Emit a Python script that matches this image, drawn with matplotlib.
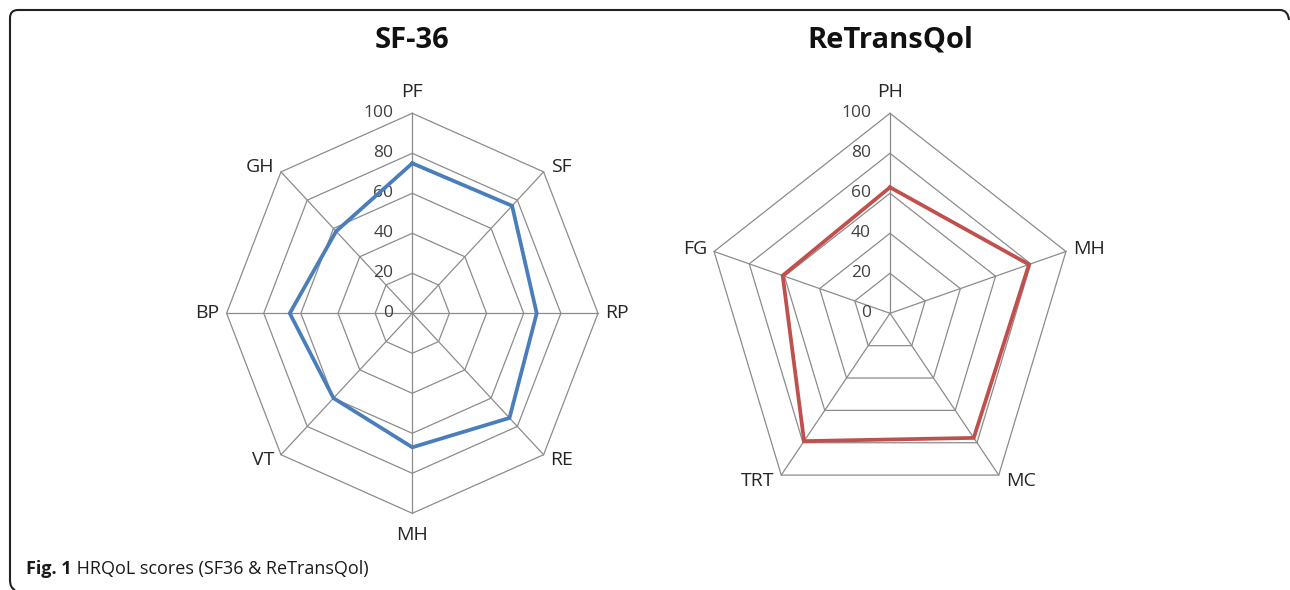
import numpy as np
import matplotlib
matplotlib.use("Agg")
import matplotlib.pyplot as plt
from matplotlib.path import Path
from matplotlib.patches import PathPatch

plt.rcParams['font.family'] = ['Open Sans', 'DejaVu Sans']

# SF-36 domains, clockwise from top
sf36_labels = ["PF", "SF", "RP", "RE", "MH", "VT", "BP", "GH"]
sf36_values = [75, 76, 67, 74, 67, 60, 66, 58]

# ReTransQol domains, clockwise from top
rtq_labels = ["PH", "MH", "MC", "TRT", "FG"]
rtq_values = [63, 79, 77, 79, 61]

ring_levels = [20, 40, 60, 80, 100]
tick_labels = ["0", "20", "40", "60", "80", "100"]

W, H = 1290, 590
fig = plt.figure(figsize=(W / 100, H / 100), dpi=100)
fig.patch.set_facecolor("white")

grid_col = "#8c8c8c"


def radar(rect, title, labels, values, color, title_x):
    ax = fig.add_axes(rect, projection="polar")
    ax.set_aspect("auto")
    ax.set_theta_zero_location("N")
    ax.set_theta_direction(-1)
    ax.set_ylim(0, 100)
    ax.set_axis_off()

    n = len(labels)
    ang = np.linspace(0, 2 * np.pi, n, endpoint=False)
    ang_c = np.append(ang, ang[0])

    # polygon rings and spokes
    for lv in ring_levels:
        ax.plot(ang_c, [lv] * (n + 1), color=grid_col, lw=0.9, clip_on=False, zorder=1)
    for a in ang:
        ax.plot([a, a], [0, 100], color=grid_col, lw=0.9, clip_on=False, zorder=1)

    # data line
    vals = list(values) + [values[0]]
    ax.plot(ang_c, vals, color=color, lw=2.7, clip_on=False, zorder=3,
            solid_joinstyle="miter")

    # radial tick labels along the top spoke
    for i, t in enumerate(tick_labels):
        ax.annotate(t, xy=(0, i * 20), xytext=(-19, 0), textcoords="offset pixels",
                    ha="right", va="center", fontsize=12.5, color="#404040", zorder=2)

    # category labels
    for a, lab in zip(ang, labels):
        s, c = np.sin(a), np.cos(a)
        if abs(s) < 0.01:
            ha = "center"
            va = "bottom" if c > 0 else "top"
            off = (0, 12 if c > 0 else -13)
        else:
            ha = "left" if s > 0 else "right"
            va = "center"
            off = (7 * np.sign(s), 7 * c)
        ax.annotate(lab, xy=(a, 100), xytext=off, textcoords="offset pixels",
                    ha=ha, va=va, fontsize=14, color="#262626",
                    annotation_clip=False)

    fig.text(title_x / W, 1 - 40 / H, title, ha="center", va="center",
             fontsize=21, fontweight="bold", color="#111111")
    return ax


radar([226.6 / W, 76.7 / H, 371.4 / W, 400 / H], "SF-36",
      sf36_labels, sf36_values, "#4a7ebb", 412)
radar([705 / W, 76.7 / H, 370 / W, 400 / H], "ReTransQol",
      rtq_labels, rtq_values, "#c0504d", 890)

# caption
t1 = fig.text(26 / W, 1 - 574 / H, "Fig. 1", ha="left", va="baseline",
              fontsize=13, fontweight="bold", color="#1a1a1a")
plt.annotate(" HRQoL scores (SF36 & ReTransQol)", xy=(1, 0), xycoords=t1,
             ha="left", va="bottom", fontsize=13, color="#1a1a1a")


# rounded frame (left + top edges)
def px(x, y):
    return (x / W, 1 - y / H)


verts = [px(15, 590), px(10, 588), px(10, 580), px(10, 18), px(10, 10), px(18, 10),
         px(1280, 10), px(1288, 10), px(1289, 20)]
codes = [Path.MOVETO, Path.CURVE3, Path.CURVE3, Path.LINETO, Path.CURVE3, Path.CURVE3,
         Path.LINETO, Path.CURVE3, Path.CURVE3]
frame = PathPatch(Path(verts, codes), transform=fig.transFigure, fill=False,
                  edgecolor="#222222", lw=1.5)
fig.patches.append(frame)

fig.savefig("out.png", dpi=100)
